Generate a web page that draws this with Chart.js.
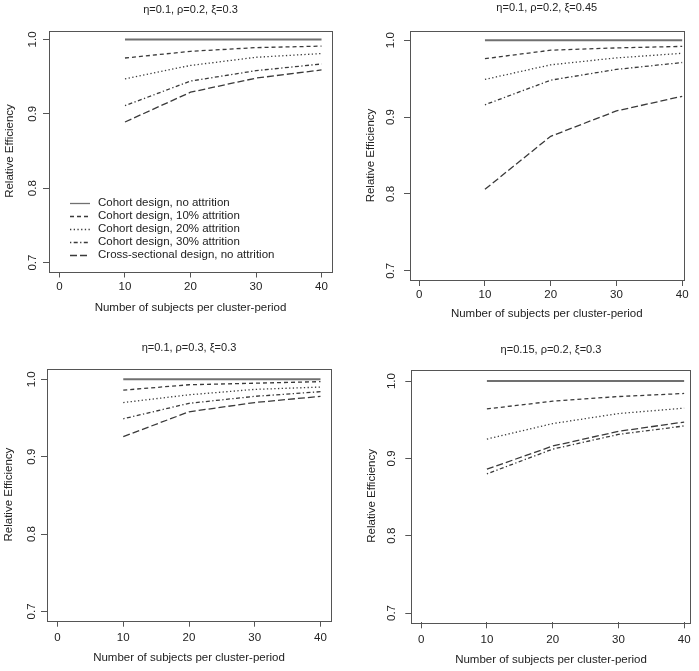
<!DOCTYPE html>
<html lang="en">
<head>
  <meta charset="UTF-8" />
  <title>Relative Efficiency</title>
  <script src="https://cdn.jsdelivr.net/npm/chart.js"></script>
  <style>
    * { box-sizing: border-box; }
    body { margin: 0; background: #fff; }
    #wrap { position: relative; width: 699px; height: 671px; }
    #wrap canvas { position: absolute; }
  </style>
</head>
<body>
<div id="wrap">
  <canvas id="p1" width="349" height="335" style="left:0;top:0"></canvas>
  <canvas id="p2" width="350" height="335" style="left:349px;top:0"></canvas>
  <canvas id="p3" width="349" height="336" style="left:0;top:335px"></canvas>
  <canvas id="p4" width="350" height="336" style="left:349px;top:335px"></canvas>
</div>

<script>
  // ---- data ----
  const subjects = [10, 20, 30, 40];
  const xTicks = [0, 10, 20, 30, 40];
  const yTicks = [0.7, 0.8, 0.9, 1.0];
  const seriesLabels = [
    'Cohort design, no attrition',
    'Cohort design, 10% attrition',
    'Cohort design, 20% attrition',
    'Cohort design, 30% attrition',
    'Cross-sectional design, no attrition'
  ];
  const panelTitles = [
    'η=0.1, ρ=0.2, ξ=0.3',
    'η=0.1, ρ=0.2, ξ=0.45',
    'η=0.1, ρ=0.3, ξ=0.3',
    'η=0.15, ρ=0.2, ξ=0.3'
  ];
  const xTitle = 'Number of subjects per cluster-period';
  const yTitle = 'Relative Efficiency';

  const noAttrition = [1, 1, 1, 1];

  const p1Att10 = [0.975, 0.984, 0.989, 0.991];
  const p1Att20 = [0.947, 0.965, 0.976, 0.981];
  const p1Att30 = [0.911, 0.944, 0.958, 0.967];
  const p1Cross = [0.889, 0.929, 0.948, 0.959];

  const p2Att10 = [0.976, 0.987, 0.990, 0.992];
  const p2Att20 = [0.949, 0.968, 0.977, 0.983];
  const p2Att30 = [0.916, 0.948, 0.962, 0.971];
  const p2Cross = [0.806, 0.875, 0.908, 0.927];

  const p3Att10 = [0.986, 0.993, 0.995, 0.997];
  const p3Att20 = [0.970, 0.980, 0.987, 0.990];
  const p3Att30 = [0.949, 0.969, 0.978, 0.984];
  const p3Cross = [0.926, 0.958, 0.970, 0.978];

  const p4Att10 = [0.964, 0.974, 0.980, 0.984];
  const p4Att20 = [0.925, 0.945, 0.958, 0.965];
  const p4Att30 = [0.880, 0.912, 0.931, 0.942];
  const p4Cross = [0.886, 0.916, 0.935, 0.947];

  // ---- styling ----
  Chart.defaults.font.family = "'Liberation Sans', Arial, sans-serif";
  Chart.defaults.font.size = 11.5;
  Chart.defaults.color = '#222';

  const lineStyles = [
    { color: '#707070', width: 2,   dash: [] },
    { color: '#3a3a3a', width: 1.3, dash: [4, 3] },
    { color: '#3a3a3a', width: 1.3, dash: [1.3, 2.4] },
    { color: '#3a3a3a', width: 1.3, dash: [1.3, 2.4, 4, 2.4] },
    { color: '#3a3a3a', width: 1.3, dash: [7, 3] }
  ];

  // box around plot region, like R's box()
  const framePlugin = {
    id: 'frame',
    afterDatasetsDraw(chart) {
      const a = chart.chartArea, ctx = chart.ctx;
      ctx.save();
      ctx.strokeStyle = '#555';
      ctx.lineWidth = 1;
      ctx.strokeRect(Math.round(a.left) + 0.5, Math.round(a.top) + 0.5,
        Math.round(a.right - a.left), Math.round(a.bottom - a.top));
      ctx.restore();
    }
  };

  // legend drawn inside the plot (only first panel)
  const insideLegend = {
    id: 'insideLegend',
    afterDraw(chart, args, opts) {
      if (!opts.show) return;
      const ctx = chart.ctx;
      ctx.save();
      ctx.font = "11.5px 'Liberation Sans', Arial, sans-serif";
      ctx.textBaseline = 'middle';
      ctx.fillStyle = '#222';
      chart.data.datasets.forEach((ds, i) => {
        const y = opts.y + i * opts.step;
        ctx.beginPath();
        ctx.setLineDash(ds.borderDash || []);
        ctx.strokeStyle = ds.borderColor;
        ctx.lineWidth = Math.min(ds.borderWidth, 1.3);
        ctx.moveTo(opts.x, y + 0.5);
        ctx.lineTo(opts.x + opts.len, y + 0.5);
        ctx.stroke();
        ctx.fillText(ds.label, opts.textX, y);
      });
      ctx.restore();
    }
  };

  function makeChart(id, idx, series, lay) {
    const datasets = series.map((vals, i) => ({
      label: seriesLabels[i],
      data: subjects.map((x, j) => ({ x: x, y: vals[j] })),
      borderColor: lineStyles[i].color,
      borderWidth: lineStyles[i].width,
      borderDash: lineStyles[i].dash,
      pointRadius: 0,
      tension: 0,
      fill: false
    }));

    new Chart(document.getElementById(id), {
      type: 'line',
      data: { datasets },
      plugins: [framePlugin, insideLegend],
      options: {
        responsive: false,
        animation: false,
        devicePixelRatio: 1,
        layout: { padding: { left: 0, top: 0, bottom: 0, right: lay.padRight } },
        plugins: {
          legend: { display: false },
          tooltip: { enabled: false },
          title: {
            display: true,
            text: panelTitles[idx],
            fullSize: false,
            color: '#222',
            font: { size: 11, weight: 'normal', lineHeight: 1 },
            padding: { top: lay.titleTop, bottom: lay.titleBottom }
          },
          insideLegend: lay.legend || { show: false }
        },
        scales: {
          x: {
            type: 'linear',
            min: lay.xMin,
            max: lay.xMax,
            afterBuildTicks: s => { s.ticks = xTicks.map(v => ({ value: v })); },
            afterFit: s => { s.height = lay.xH; },
            ticks: { autoSkip: false, maxRotation: 0, padding: lay.xTickPad, color: '#222' },
            grid: { drawOnChartArea: false, tickLength: 6, color: '#555' },
            border: { display: false },
            title: {
              display: true, text: xTitle, color: '#222',
              font: { size: 11.5, lineHeight: 1 },
              padding: { top: 0, bottom: lay.xTitlePad }
            }
          },
          y: {
            type: 'linear',
            min: lay.yMin,
            max: lay.yMax,
            afterBuildTicks: s => { s.ticks = yTicks.map(v => ({ value: v })); },
            afterFit: s => { s.width = lay.yW; },
            ticks: {
              minRotation: 90, maxRotation: 90, crossAlign: 'center',
              padding: lay.yTickPad, color: '#222',
              callback: v => Number(v).toFixed(1)
            },
            grid: { drawOnChartArea: false, tickLength: 6, color: '#555' },
            border: { display: false },
            title: {
              display: true, text: yTitle, color: '#222',
              font: { size: 11.5, lineHeight: 1 },
              padding: { top: lay.yTitlePad, bottom: 0 }
            }
          }
        }
      }
    });
  }

  makeChart('p1', 0, [noAttrition, p1Att10, p1Att20, p1Att30, p1Cross], {
    padRight: 17, titleTop: 4.25, titleBottom: 15.25,
    xMin: -1.6, xMax: 41.6, yMin: 0.688, yMax: 1.012,
    xH: 63.5, yW: 49, xTickPad: 2.6, yTickPad: 1.7, xTitlePad: 21.25, yTitlePad: 4.25,
    legend: { show: true, x: 70, len: 20, textX: 98, y: 203, step: 13 }
  });

  makeChart('p2', 1, [noAttrition, p2Att10, p2Att20, p2Att30, p2Cross], {
    padRight: 15.5, titleTop: 2.55, titleBottom: 17.45,
    xMin: -1.4, xMax: 40.2, yMin: 0.688, yMax: 1.012,
    xH: 55, yW: 61, xTickPad: 2.1, yTickPad: 5.3, xTitlePad: 14.95, yTitlePad: 15.9
  });

  makeChart('p3', 2, [noAttrition, p3Att10, p3Att20, p3Att30, p3Cross], {
    padRight: 18, titleTop: 7.55, titleBottom: 14.95,
    xMin: -1.6, xMax: 41.6, yMin: 0.688, yMax: 1.014,
    xH: 50.3, yW: 47, xTickPad: 4.7, yTickPad: 1.3, xTitlePad: 6.95, yTitlePad: 2.95
  });

  makeChart('p4', 3, [noAttrition, p4Att10, p4Att20, p4Att30, p4Cross], {
    padRight: 8.3, titleTop: 9.25, titleBottom: 14.25,
    xMin: -1.5, xMax: 41, yMin: 0.688, yMax: 1.015,
    xH: 48.7, yW: 62.3, xTickPad: 4.8, yTickPad: 5, xTitlePad: 5.25, yTitlePad: 17.55
  });
</script>
</body>
</html>
